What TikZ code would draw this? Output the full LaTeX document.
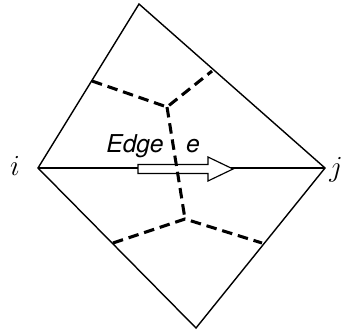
\documentclass[tikz,border=0pt]{standalone}
\usepackage{fontspec}
\newfontfamily\labelfont{TeX Gyre Heros}
\begin{document}
\begin{tikzpicture}[x=0.03cm,y=-0.03cm]
\useasboundingbox (0,0) rectangle (345,334);
\tikzset{
  tri/.style={line width=1.2pt},
  dual/.style={line width=2.6pt,dash pattern=on 9pt off 5pt},
  dirarrow/.style={draw,fill=white,line width=1pt,line join=miter}
}
% primal mesh
\coordinate (vi)  at ( 38,168);
\coordinate (vj)  at (325,168);
\coordinate (top) at (139,  4);
\coordinate (bot) at (196,328);
\draw [tri] (vi) -- (top) -- (vj) -- (bot) -- cycle;
\draw [tri] (vi) -- (vj);

% dual mesh
\coordinate (cup)  at (167,107);
\coordinate (cdn)  at (185,219);
\coordinate (ul)   at ( 92, 81);
\coordinate (ur)   at (212, 71);
\coordinate (dl)   at (113,243);
\coordinate (dr)   at (262,243);

% direction of the edge
\coordinate (tail) at (138,169);
\coordinate (tip)  at (233,169);
\draw [dirarrow] (tail) ++(0,-4.5) -- ++(70,0) -- ++(0,-7.5) -- (tip)
  -- ++(-25,12) -- ++(0,-7.5) -- ++(-70,0) -- cycle;

\draw [dual] (ul) -- (cup) -- (ur);
\draw [dual] (dl) -- (cdn) -- (dr);
\draw [dual] (cup) -- (cdn);

\node (li) at (15,166) {\fontsize{24}{26}\selectfont$i$};
\node (lj) at (336,170) {\fontsize{24}{26}\selectfont$j$};
\node (edge) at (135,146) {\fontsize{21}{24}\selectfont\labelfont\itshape Edge};
\node (e)    at (193,146) {\fontsize{21}{24}\selectfont\labelfont\itshape e};
\end{tikzpicture}
\end{document}
